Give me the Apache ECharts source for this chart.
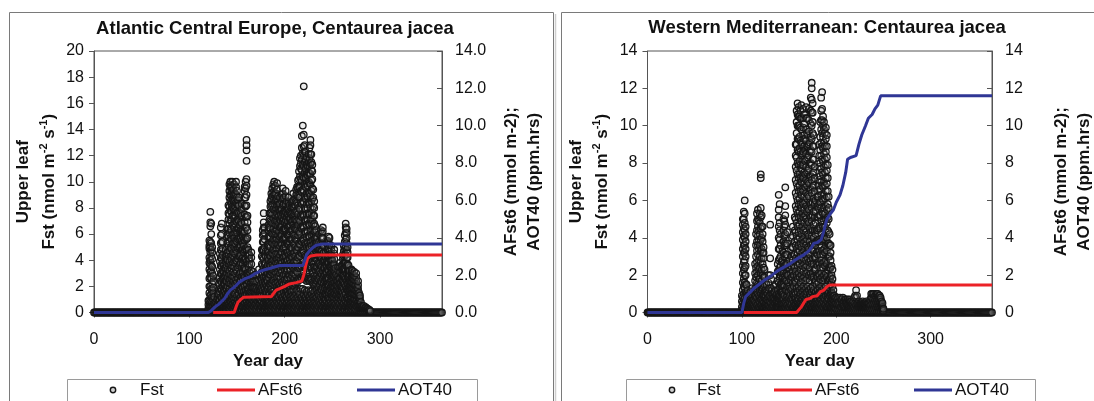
<!DOCTYPE html>
<html>
<head>
<meta charset="utf-8">
<script src="https://cdn.jsdelivr.net/npm/echarts@6/dist/echarts.min.js"></script>
<style>
  html, body { margin: 0; padding: 0; background: #fff; }
  #chart { width: 1094px; height: 401px; }
</style>
</head>
<body>
<div id="chart"></div>
<script>
// Panel titles and axis ranges
const panelTitles = ['Atlantic Central Europe, Centaurea jacea', 'Western Mediterranean: Centaurea jacea'];
const fstMax = [20, 14];
const cumMax = [14, 14];

// Hourly upper-leaf stomatal flux (Fst), grouped per year day: [day, values...]
const fstAtlantic = [
  [120,0.1,0.3,0.6,0.9],[121,0.2,0.5,0.9,1.5,2.0,2.6,3.3,3.8,4.2,4.9,5.1,5.5],
  [122,0.1,0.4,0.8,1.3,2.0,2.7,3.1,3.7,4.0,4.6,5.0,5.4,6.6,6.9,7.7],
  [123,0.2,0.5,0.9,1.4,1.8,2.6,3.2,3.6,4.3,4.8,5.3,6.0,6.8],[124,0.1,0.4,0.8,1.2,1.7,2.2,3.0,3.5,4.1,4.6,5.0],
  [125,0.2,0.5,1.0,1.5,1.9,2.4,2.8],[126,0.1,0.3,0.7,1.2],[127,0.1,0.4,0.6],[128,0.2,0.4,0.8],
  [129,0.1,0.5,1.0],[130,0.2,0.6,1.1,1.4],[131,0.1,0.4,0.9,1.4,1.8,2.6],[132,0.2,0.6,1.0,1.6,2.1,2.7,3.3,3.9,4.5],
  [133,0.3,0.7,1.2,1.8,2.4,3.0,3.6,4.2,4.8,5.3,5.9,6.5],[134,0.2,0.5,1.1,1.7,2.3,2.9,3.5,4.1,4.7,5.4,6.0,6.8],
  [135,0.3,0.6,0.9,1.5,2.0,2.6,3.2,3.8,4.4,4.9,5.4],[136,0.2,0.5,0.8,1.3,1.7,2.2,2.7,3.1,3.6],
  [137,0.3,0.7,1.0,1.6,2.2,2.8,3.4],[138,0.2,0.5,0.9,1.4,1.9,2.4,2.9,3.4,3.9,4.3,4.8],
  [139,0.3,0.6,1.2,1.8,2.4,3.0,3.6,4.1,4.5],[140,0.4,0.8,1.4,2.0,2.7,3.3,4.0,4.6,5.3,5.9,6.4],
  [141,0.2,0.6,1.1,1.6,2.3,3.0,3.7,4.4,5.1,5.8,6.4,7.1,7.6,8.2],
  [142,0.3,0.7,1.2,1.8,2.5,3.2,3.9,4.7,5.4,6.1,6.8,7.5,8.1,8.8,9.3,9.8],
  [143,0.2,0.5,0.9,1.5,2.2,2.9,3.6,4.3,5.0,5.7,6.4,7.1,7.8,8.5,9.0,9.6,10.0],
  [144,0.4,0.8,1.3,1.9,2.6,3.4,4.1,4.9,5.6,6.3,7.0,7.7,8.3,8.9,9.3,9.7],
  [145,0.2,0.6,1.0,1.6,2.1,2.8,3.6,4.4,5.2,5.9,6.7,7.4,8.1,8.7,9.2,9.6,10.0],
  [146,0.3,0.7,1.2,1.7,2.4,3.1,3.8,4.6,5.3,6.0,6.7,7.4,8.0,8.6,9.0,9.4],
  [147,0.2,0.5,1.0,1.5,2.0,2.7,3.5,4.2,5.0,5.7,6.5,7.2,7.9,8.5,9.0,9.8],
  [148,0.4,0.8,1.4,2.2,3.0,3.8,4.5,5.3,6.1,6.8,7.4,8.1,8.6,9.1],
  [149,0.2,0.6,1.1,1.8,2.5,3.3,4.0,4.8,5.5,6.3,7.0,7.8,8.4,9.0,9.6,10.0],
  [150,0.3,0.7,1.3,2.3,3.1,3.9,4.6,5.4,6.1,6.9,7.6,8.3,8.8,9.3],
  [151,0.2,0.5,1.0,1.9,2.6,3.4,4.1,4.9,5.6,6.4,7.1,7.7,8.2,8.6],
  [152,0.4,0.8,1.4,2.1,2.9,3.6,4.3,5.0,5.7,6.4,7.0,7.6,8.2,8.8],
  [153,0.2,0.6,1.1,1.7,2.4,3.0,3.7,4.3,5.0,5.6,6.2,6.7],
  [154,0.3,0.7,1.2,1.8,2.5,3.1,3.8,4.4,5.1,5.7,6.3,6.9,7.6],
  [155,0.2,0.5,1.0,1.6,2.0,2.7,3.4,4.1,4.8,5.5,6.2,6.8,7.4,7.9,8.3],
  [156,0.4,0.8,1.3,1.9,2.5,3.1,3.7,4.2,4.8,5.3,5.8,6.2],
  [157,0.2,0.6,1.1,1.6,2.2,2.8,3.4,4.0,4.6,5.1,5.6,6.1],
  [158,0.3,0.7,1.3,2.0,2.7,3.4,4.1,4.8,5.5,6.2,6.9,7.5,8.2,8.8,9.3,9.6],
  [159,0.2,0.5,1.0,1.7,2.5,3.3,4.1,4.9,5.7,6.5,7.3,8.1,8.8,9.5,10.0],
  [160,0.4,0.8,1.4,2.2,3.0,3.9,4.8,5.6,6.5,7.3,8.2,9.0,9.7,10.2,11.6,12.4,12.8,13.2],
  [161,0.2,0.6,1.1,1.7,2.4,3.0,3.7,4.4,5.0,5.7,6.3,6.9,7.4],[162,0.3,0.7,1.2,1.8,2.4,2.9,3.5,4.0,4.5,4.8],
  [163,0.2,0.5,0.9,1.5,2.0,2.6,3.1,3.7,4.1,4.4],[164,0.4,0.8,1.1,1.6,2.2,2.7,3.0],
  [165,0.2,0.6,1.0,1.5,2.0,2.6,3.2,3.7,4.2,4.6],[166,0.3,0.7,1.0,1.4,1.9,2.3,2.6],
  [167,0.2,0.5,0.9,1.3,1.9,2.4,2.8,3.1],[168,0.4,0.8,1.2,1.6,1.9],[169,0.2,0.6,1.0,1.5,1.9,2.4,2.9],
  [170,0.3,0.7,1.0,1.4,1.8],[171,0.2,0.5,0.9,1.4,1.9,2.4],[172,0.4,0.8,1.1,1.5,1.7],
  [173,0.2,0.6,1.0,1.4,1.9,2.5,2.9,3.3],[174,0.3,0.7,1.0,1.4,1.7,2.0],[175,0.2,0.5,0.9,1.3,1.8,2.2,2.6],
  [176,0.4,0.8,1.3,1.9,2.5,3.1,3.7,4.3,4.8],[177,0.2,0.6,1.1,1.7,2.3,2.9,3.6,4.2,4.8,5.4,5.9,6.3],
  [178,0.3,0.7,1.3,2.0,2.7,3.4,4.1,4.8,5.4,6.0,6.5,6.9,7.6],[179,0.2,0.5,1.0,1.8,2.4,3.1,3.7,4.4,5.0,5.6,6.1,6.5],
  [180,0.4,0.8,1.2,1.6,2.2,2.7,3.3,3.8,4.3,4.7],[181,0.2,0.6,1.0,1.5,2.0,2.5,3.0,3.4],
  [182,0.3,0.7,1.1,1.8,2.4,3.0,3.6,4.2,4.7,5.2],[183,0.2,0.5,0.9,1.5,2.0,2.7,3.3,4.0,4.6,5.2,5.8,6.3,6.7],
  [184,0.4,0.8,1.4,2.2,2.9,3.7,4.4,5.1,5.8,6.5,7.1,7.6],
  [185,0.2,0.6,1.1,1.7,2.1,2.9,3.6,4.3,5.0,5.7,6.4,7.0,7.6,8.1,8.5],
  [186,0.3,0.7,1.2,1.8,2.3,3.1,3.9,4.6,5.4,6.1,6.9,7.6,8.2,8.7,9.1],
  [187,0.2,0.5,1.0,1.6,2.2,3.0,3.7,4.5,5.3,6.0,6.8,7.5,8.3,8.9,9.5],
  [188,0.4,0.8,1.4,2.4,3.2,4.0,4.8,5.6,6.4,7.2,7.9,8.6,9.2,9.8],
  [189,0.2,0.6,1.1,1.7,2.1,2.9,3.6,4.4,5.2,6.0,6.8,7.5,8.3,9.0,9.6,10.0],
  [190,0.3,0.7,1.2,2.3,3.1,3.9,4.7,5.5,6.2,7.0,7.8,8.5,9.1,9.7],
  [191,0.2,0.5,1.0,1.6,2.2,3.0,3.8,4.5,5.3,6.0,6.7,7.4,8.0,8.6,9.1],
  [192,0.4,0.8,1.3,2.0,2.7,3.4,4.1,4.9,5.6,6.3,7.0,7.6,8.2,8.7,9.4,9.9],
  [193,0.2,0.6,1.1,1.7,2.3,3.1,3.8,4.5,5.2,5.9,6.6,7.3,7.9,8.5,8.9],
  [194,0.3,0.7,1.2,1.8,2.1,2.8,3.5,4.2,4.9,5.6,6.2,6.8,7.4,7.9,8.3],
  [195,0.2,0.5,1.0,1.6,2.2,3.0,3.7,4.4,5.1,5.8,6.5,7.1,7.8,8.3,8.8],
  [196,0.4,0.8,1.4,2.0,2.6,3.3,4.0,4.6,5.3,5.9,6.5,7.0,7.5,7.9],
  [197,0.2,0.6,1.1,1.8,2.3,3.1,3.8,4.6,5.2,5.9,6.6,7.3,7.9,8.5,9.0],
  [198,0.3,0.7,1.2,2.1,2.8,3.5,4.2,4.9,5.6,6.3,7.0,7.6,8.2,8.7,9.1,9.5],
  [199,0.2,0.5,1.0,1.6,2.2,2.9,3.6,4.3,5.0,5.7,6.4,7.1,7.7,8.3,8.8],
  [200,0.4,0.8,1.3,1.9,2.5,3.2,3.9,4.5,5.2,5.8,6.4,6.9,7.4,7.8],
  [201,0.2,0.6,1.1,1.7,2.2,2.9,3.6,4.3,5.0,5.7,6.4,7.1,7.7,8.3,8.9,9.3],
  [202,0.3,0.7,1.2,1.8,2.5,3.2,3.9,4.6,5.3,6.0,6.7,7.3,7.9,8.5],
  [203,0.2,0.5,1.0,1.6,2.0,2.7,3.3,4.0,4.6,5.3,5.9,6.5,7.0,7.5,8.0],
  [204,0.4,0.8,1.4,2.2,2.9,3.7,4.4,5.2,5.9,6.6,7.3,7.9,8.4,8.8],
  [205,0.2,0.6,1.1,1.7,2.1,2.8,3.4,4.1,4.7,5.4,6.0,6.6,7.2,7.7,8.2],
  [206,0.3,0.7,1.2,1.8,2.0,2.6,3.2,3.8,4.4,5.0,5.6,6.2,6.7,7.2,7.6],
  [207,0.2,0.5,1.0,1.6,2.2,2.9,3.6,4.3,5.0,5.6,6.3,6.9,7.5,8.0,8.4],
  [208,0.4,0.8,1.3,2.1,2.8,3.5,4.2,4.9,5.6,6.3,7.0,7.6,8.1,8.5],
  [209,0.2,0.6,1.1,1.7,2.3,3.0,3.8,4.5,5.3,6.0,6.7,7.4,8.0,8.6,9.1],
  [210,0.3,0.7,1.2,2.0,2.6,3.3,3.9,4.6,5.2,5.9,6.5,7.1,7.6,8.0],
  [211,0.2,0.5,1.0,1.6,2.2,2.9,3.6,4.3,5.0,5.7,6.4,7.1,7.7,8.2,8.7],
  [212,0.4,0.8,1.4,2.4,3.2,4.0,4.8,5.6,6.4,7.1,7.8,8.5,9.0,9.4],
  [213,0.2,0.6,1.1,1.7,2.3,3.1,3.9,4.7,5.5,6.3,7.0,7.7,8.4,9.0,9.6],
  [214,0.3,0.7,1.2,2.5,3.4,4.2,5.0,5.9,6.7,7.5,8.2,8.9,9.5,10.1],
  [215,0.2,0.5,1.0,1.6,2.6,3.5,4.4,5.3,6.2,7.1,8.0,8.8,9.6,10.2,10.8],
  [216,0.4,0.8,1.4,2.5,3.4,4.3,5.2,6.1,7.0,7.9,8.8,9.6,10.4,11.2,11.8],
  [217,0.2,0.6,1.1,1.8,2.7,3.6,4.6,5.5,6.5,7.4,8.4,9.3,10.2,11.0,11.4,12.0],
  [218,0.3,0.7,1.2,2.6,3.5,4.5,5.4,6.4,7.3,8.3,9.2,10.1,10.9,11.7,12.6,13.5],
  [219,0.2,0.5,1.0,1.8,2.8,3.7,4.7,5.6,6.6,7.5,8.5,9.4,10.4,11.3,12.2,14.3],
  [220,0.4,0.8,1.4,2.7,3.6,4.6,5.5,6.5,7.4,8.4,9.3,10.3,11.2,12.0,12.7,13.6,17.3],
  [221,0.2,0.6,1.1,1.7,2.6,3.5,4.4,5.3,6.2,7.1,8.0,8.9,9.8,10.7,11.5,12.3,12.8],
  [222,0.3,0.7,1.2,2.5,3.4,4.3,5.2,6.1,7.0,7.9,8.7,9.6,10.3,11.0,11.7,12.3],
  [223,0.2,0.5,1.0,1.6,2.4,3.2,4.1,5.0,5.8,6.7,7.5,8.3,9.1,9.9,10.6,11.3,11.9],
  [224,0.4,0.8,1.4,2.6,3.5,4.4,5.3,6.2,7.1,8.0,8.9,9.7,10.5,11.2],
  [225,0.2,0.6,1.1,1.7,2.5,3.4,4.2,5.1,5.9,6.8,7.6,8.4,9.2,10.0,10.7,11.5,12.1],
  [226,0.3,0.7,1.2,2.4,3.2,4.1,5.0,5.8,6.7,7.5,8.3,9.1,9.9,10.6,11.2,11.8,12.6],
  [227,0.2,0.5,1.0,1.6,2.6,3.5,4.4,5.3,6.2,7.1,8.0,8.9,9.8,10.6,11.4,12.1,12.8,13.2],
  [228,0.4,0.8,1.4,2.5,3.4,4.2,5.1,5.9,6.8,7.6,8.5,9.3,10.1,10.9,11.5,12.1],
  [229,0.2,0.6,1.1,1.7,2.3,3.1,3.9,4.7,5.5,6.3,7.1,7.9,8.7,9.5,10.2,10.8,11.3],
  [230,0.3,0.7,1.2,2.2,3.0,3.7,4.5,5.2,6.0,6.7,7.4,8.1,8.8,9.4],
  [231,0.2,0.5,1.0,1.6,2.1,2.8,3.5,4.2,4.9,5.6,6.2,6.8,7.4,8.0,8.5],
  [232,0.4,0.8,1.3,2.0,2.6,3.3,3.9,4.5,5.1,5.7,6.2,6.6],
  [233,0.2,0.6,1.1,1.7,2.2,2.8,3.5,4.1,4.7,5.3,5.8,6.3],
  [234,0.3,0.7,1.2,1.8,2.4,2.9,3.5,4.0,4.5,5.0,5.4,5.7],
  [235,0.2,0.5,1.0,1.5,2.0,2.6,3.2,3.8,4.4,4.9],[236,0.4,0.8,1.3,1.9,2.5,3.1,3.7,4.3,4.8,5.4,6.0],
  [237,0.2,0.6,1.0,1.6,2.1,2.7,3.2,3.8,4.3,4.8],[238,0.3,0.7,1.2,1.8,2.4,3.0,3.6,4.2,4.7,5.3,5.8,6.3],
  [239,0.2,0.5,1.0,1.7,2.3,2.9,3.5,4.1,4.7,5.2,5.7,6.1],[240,0.4,0.8,1.3,1.9,2.6,3.2,3.9,4.5,5.1,5.7,6.2,6.5],
  [241,0.2,0.6,1.1,1.6,2.2,2.8,3.4,4.0,4.6,5.1],[242,0.3,0.7,1.0,1.4,1.9,2.4,2.9,3.4,3.9,4.3],
  [243,0.2,0.5,1.0,1.5,2.1,2.6,3.1,3.7,4.2,4.6],[244,0.4,0.8,1.3,1.7,2.2,2.6,3.1,3.5,3.9],
  [245,0.2,0.6,1.1,1.6,2.2,2.7,3.3,3.8,4.3,4.8,5.2,5.5],[246,0.3,0.7,1.2,1.5,2.1,2.6,3.2,3.8,4.4,4.9,5.4,5.8],
  [247,0.2,0.5,1.0,1.7,2.3,2.9,3.5,4.1,4.7,5.2,5.7],[248,0.4,0.8,1.4,1.9,2.4,3.0,3.5,4.0,4.5],
  [249,0.2,0.6,1.1,1.5,2.0,2.5,3.0,3.5,4.0,4.4,4.8,5.1],[250,0.3,0.7,1.3,1.8,2.2,2.7,3.1,3.6,4.0],
  [251,0.2,0.5,1.0,1.2,1.6,2.0,2.5,2.9,3.3,3.7],[252,0.4,0.8,1.4,1.9,2.3,2.8,3.2,3.7,4.1,4.5,4.8],
  [253,0.2,0.6,1.1,1.5,1.9,2.3,2.7,3.1,3.4],[254,0.3,0.7,1.3,1.7,2.1,2.5,2.9],
  [255,0.2,0.5,1.0,1.4,1.7,2.1,2.4],[256,0.4,0.8,1.2,1.6,2.0,2.4,2.8,3.2,3.5],
  [257,0.2,0.6,1.1,1.4,1.8,2.2,2.6],[258,0.3,0.7,1.3,1.7,2.2,2.6,3.1,3.5,3.8],
  [259,0.2,0.5,1.0,1.3,1.6,2.0,2.3],[260,0.4,0.8,1.2,1.6,2.0,2.5,2.9,3.3,3.6],
  [261,0.2,0.6,1.1,1.5,1.9,2.4,2.8,3.3,3.7,4.1,4.4],[262,0.3,0.7,1.3,1.8,2.3,2.8,3.3,3.8,4.3,4.7,5.1],
  [263,0.2,0.5,1.0,1.6,2.2,2.7,3.3,3.8,4.4,4.9,5.4,5.9],[264,0.4,0.8,1.4,2.0,2.6,3.2,3.8,4.4,5.0,5.6,6.1,6.5,6.8],
  [265,0.2,0.6,1.1,1.8,2.4,3.0,3.6,4.2,4.8,5.3,5.7,6.1,6.4],[266,0.3,0.7,1.2,1.7,2.2,2.7,3.2,3.7,4.2,4.6,5.0],
  [267,0.2,0.5,1.0,1.5,1.9,2.4,2.8,3.2,3.6],[268,0.4,0.8,1.3,1.7,2.1,2.5,2.9,3.2],
  [269,0.2,0.6,1.0,1.3,1.7,2.1,2.4],[270,0.3,0.7,1.1,1.5,1.9,2.3,2.7,3.0,3.3],
  [271,0.2,0.5,0.9,1.4,1.8,2.3,2.7,3.0,3.2],[272,0.4,0.8,1.1,1.5,1.9,2.2,2.6,2.9],
  [273,0.2,0.6,1.0,1.4,1.8,2.2,2.5,2.8,3.1],[274,0.3,0.7,1.0,1.4,1.7,2.1],
  [275,0.2,0.5,0.9,1.3,1.7,2.1,2.4,2.7,3.0],[276,0.4,0.7,1.0,1.3,1.6,1.9],
  [277,0.2,0.5,0.8,1.2,1.5,1.8,2.1,2.4],[278,0.3,0.6,0.9,1.1,1.3,1.5],[279,0.2,0.4,0.6,0.9,1.1,1.3],
  [280,0.1,0.3,0.5,0.8],[281,0.2,0.4,0.5],[282,0.1,0.3,0.4],[283,0.2,0.3,0.5],[284,0.1,0.3],
  [285,0.2,0.4],[286,0.1,0.3],[287,0.2,0.3],[288,0.1,0.2],[289,0.1,0.2],[290,0.1]
];

const fstMediterranean = [
  [100,0.1,0.3,0.6,0.9],[101,0.2,0.5,0.8,1.2,1.6,2.1,2.5,3.0,3.4,3.9,4.3,4.7,5.0],
  [102,0.1,0.4,0.7,1.0,1.4,1.8,2.3,2.7,3.2,3.6,4.1,4.5,5.0,5.4],
  [103,0.2,0.5,0.8,1.3,1.6,2.0,2.4,2.8,3.2,3.6,4.0,4.4,4.8,5.3,6.0],
  [104,0.1,0.3,0.6,1.1,1.5,2.0,2.5,3.0,3.4,3.8,4.2,4.6],[105,0.2,0.5,0.7,1.0,1.5],
  [106,0.1,0.3,0.6,0.9,1.2],[107,0.2,0.5,0.7,0.9],[108,0.1,0.4,0.7],[109,0.2,0.4,0.6,0.9,1.1],
  [110,0.1,0.3,0.5,0.8],[111,0.2,0.4,0.6,0.9,1.3],[112,0.1,0.3,0.5,0.7],[113,0.2,0.4,0.7,1.0],
  [114,0.1,0.3,0.6,0.9,1.3,1.7,2.1,2.6],[115,0.2,0.5,0.9,1.3,1.9,2.4,3.0,3.6,4.2],
  [116,0.1,0.4,0.8,1.1,1.6,2.2,2.7,3.3,3.8,4.4,4.9,5.3],[117,0.2,0.5,1.0,1.5,2.0,2.5,3.1,3.6,4.1,4.6,5.0,5.5],
  [118,0.1,0.3,0.6,0.9,1.4,1.8,2.3,2.8,3.4,3.9,4.4,4.9],[119,0.2,0.5,0.8,1.2,1.8,2.4,3.0,3.6,4.2,4.8,5.3],
  [120,0.1,0.4,0.7,1.0,1.5,2.1,2.7,3.3,3.9,4.5,5.1,5.6,7.2,7.4],[121,0.2,0.5,0.8,1.2,1.7,2.3,2.9,3.4,4.0,4.6,5.2],
  [122,0.1,0.3,0.6,0.9,1.3,2.0,2.6,3.2,3.8,4.2,4.6],[123,0.2,0.5,0.9,1.4,1.9,2.4,2.9,3.2,3.5],
  [124,0.1,0.4,0.8,1.1,1.5,1.9,2.3],[125,0.2,0.4,0.6,0.9,1.2],[126,0.1,0.3,0.7,1.1,1.5],
  [127,0.2,0.5,0.7,1.0],[128,0.1,0.4,0.8,1.2,1.6,2.0],[129,0.2,0.4,0.6,0.9,1.3],
  [130,0.1,0.3,0.6,0.9,2.0,2.9,4.7],[131,0.2,0.5,0.8,1.3,1.8],[132,0.1,0.3,0.7,1.0,1.2],
  [133,0.2,0.4,0.6,0.8,1.0],[134,0.1,0.3,0.6,0.8,1.1,1.4],[135,0.2,0.5,0.7,1.1],
  [136,0.1,0.3,0.6,0.9,1.2,1.5],[137,0.2,0.4,0.6,0.8,1.0],[138,0.1,0.3,0.5,0.8,1.2,1.7,2.2,2.6],
  [139,0.2,0.5,0.8,1.0,1.6,2.2,2.8,3.4,4.0,4.6,5.1,5.5,6.3],[140,0.1,0.4,0.7,0.9,1.4,1.9,2.4,2.9,3.4,3.9,4.4,4.8,5.8],
  [141,0.2,0.5,0.8,1.1,1.5,2.0,2.5,3.0,3.6,4.2],[142,0.1,0.3,0.5,0.7,1.1,1.5,2.1,2.7],
  [143,0.2,0.5,0.8,1.1,1.4,1.9,2.3,2.8,3.3],[144,0.1,0.4,0.7,1.0,1.5,2.1,2.6,3.2,3.8,4.4,5.0],
  [145,0.2,0.5,0.9,1.4,1.9,2.5,3.0,3.6,4.1,4.6,4.9],[146,0.1,0.3,0.6,1.2,1.8,2.5,3.1,3.7,4.2,4.7,5.2,5.7,6.7],
  [147,0.2,0.5,0.8,1.2,1.7,2.1,2.6,3.1,3.6],[148,0.1,0.4,0.9,1.4,2.0,2.6,3.1,3.7,4.3],
  [149,0.2,0.5,0.7,1.1,1.6,2.0,2.4],[150,0.1,0.3,0.6,0.8,1.1,1.4],[151,0.2,0.5,0.9,1.3,1.8,2.3,2.8],
  [152,0.1,0.4,0.7,1.2,1.7,2.1,2.5,3.0,3.4],[153,0.2,0.5,0.8,1.3,1.9,2.4,3.0,3.5,4.0],
  [154,0.1,0.3,0.7,1.0,1.6,2.2,2.8,3.5,4.1,4.6],[155,0.2,0.5,0.9,1.4,2.0,2.5,3.1],
  [156,0.1,0.4,0.8,1.1,1.7,2.4,3.1,3.8,4.4,5.1],
  [157,0.2,0.5,0.8,1.0,1.6,2.2,2.9,3.6,4.3,5.0,5.7,6.4,7.1,7.8,8.4,9.0],
  [158,0.1,0.3,0.6,1.3,2.0,2.7,3.4,4.1,4.8,5.5,6.2,6.9,7.6,8.3,9.0,9.6,10.2,10.8],
  [159,0.2,0.5,0.8,1.1,1.8,2.5,3.2,3.9,4.6,5.3,6.0,6.7,7.4,8.0,8.7,9.3,10.0,10.6,11.2],
  [160,0.1,0.4,0.7,1.4,2.1,2.9,3.6,4.3,5.1,5.8,6.5,7.2,7.9,8.6,9.3,10.0,10.5,11.0],
  [161,0.2,0.5,0.9,1.2,1.9,2.6,3.3,4.0,4.7,5.4,6.1,6.8,7.4,8.1,8.8,9.4,10.0,10.5],
  [162,0.1,0.3,0.6,1.0,1.6,2.3,3.0,3.7,4.4,5.1,5.8,6.5,7.2,7.9,8.6,9.2,9.9,10.4,10.8],
  [163,0.2,0.5,0.8,1.3,2.0,2.8,3.5,4.2,4.9,5.6,6.3,7.0,7.7,8.4,9.1,9.8,10.4,11.1],
  [164,0.1,0.4,0.7,1.1,1.8,2.5,3.2,3.9,4.6,5.3,5.9,6.6,7.3,7.9,8.5,9.0],
  [165,0.2,0.5,0.9,1.4,2.2,2.9,3.7,4.4,5.1,5.8,6.5,7.2,7.9,8.6,9.3,9.9,10.4,10.9],
  [166,0.1,0.3,0.6,1.2,1.9,2.6,3.3,4.0,4.8,5.5,6.2,6.9,7.5,8.2,8.9,9.5,10.1,10.6],
  [167,0.2,0.5,0.8,1.0,1.7,2.4,3.1,3.8,4.5,5.2,5.9,6.7,7.4,8.1,8.7,9.3],
  [168,0.1,0.4,0.7,1.3,2.1,2.8,3.6,4.3,5.0,5.7,6.4,7.1,7.8,8.5,9.2,9.8,10.4,11.0],
  [169,0.2,0.5,0.9,1.1,1.8,2.5,3.2,3.9,4.7,5.4,6.1,6.8,7.5,8.2,8.9,9.6,10.4],
  [170,0.1,0.3,0.6,1.4,2.2,2.9,3.5,4.2,4.9,5.6,6.3,7.0,7.6,8.3,8.9,9.5],
  [171,0.2,0.5,0.8,1.2,2.0,2.7,3.4,4.1,4.8,5.5,6.2,6.9,7.7,8.4,9.0,9.7,10.3,10.9],
  [172,0.1,0.4,0.7,1.0,1.7,2.4,3.1,3.8,4.5,5.2,5.9,6.6,7.3,8.0,8.6,9.1],
  [173,0.2,0.5,0.9,1.3,2.1,2.8,3.6,4.3,5.1,5.8,6.6,7.3,8.0,8.7,9.4,10.1,10.8,11.5],
  [174,0.1,0.3,0.6,1.1,1.9,2.6,3.4,4.1,4.9,5.6,6.4,7.1,7.9,8.6,9.3,10.0,10.7,11.4,12.0,12.3],
  [175,0.2,0.5,0.8,1.4,2.1,2.9,3.7,4.4,5.2,5.9,6.7,7.4,8.2,8.9,9.6,10.2,10.7,11.2],
  [176,0.1,0.4,0.7,1.2,1.9,2.6,3.3,4.0,4.7,5.4,6.1,6.8,7.5,8.2,8.9,9.5],
  [177,0.2,0.5,0.9,1.0,1.6,2.3,3.0,3.7,4.4,5.1,5.8,6.5,7.2,7.8],
  [178,0.1,0.3,0.6,1.1,1.7,2.3,2.9,3.6,4.2,4.8,5.4,6.0],[179,0.2,0.5,0.8,0.9,1.5,2.0,2.6,3.2,3.8,4.4],
  [180,0.1,0.4,0.7,1.2,1.9,2.5,3.1,3.8,4.4,5.1,5.7,6.2],[181,0.2,0.5,0.9,1.0,1.6,2.1,2.7,3.3,3.9,4.5,5.1,5.6,6.2,6.8],
  [182,0.1,0.3,0.6,1.3,2.0,2.6,3.3,3.9,4.6,5.2,5.8,6.5,7.1,7.8,8.4,9.0],
  [183,0.2,0.5,0.8,1.1,1.8,2.4,3.1,3.8,4.5,5.2,5.9,6.6,7.3,8.0,8.7,9.4,10.2],
  [184,0.1,0.4,0.7,1.4,2.1,2.8,3.5,4.2,4.9,5.6,6.3,7.0,7.7,8.4,9.1,9.8,10.3,10.8,11.5],
  [185,0.2,0.5,0.9,1.2,1.9,2.6,3.3,4.0,4.7,5.4,6.1,6.8,7.5,8.2,8.9,9.6,10.3,10.9,11.8],
  [186,0.1,0.3,0.6,1.0,1.7,2.4,3.1,3.9,4.6,5.3,6.0,6.7,7.4,8.1,8.8,9.4,10.0,10.5],
  [187,0.2,0.5,0.8,1.3,2.0,2.7,3.4,4.1,4.9,5.6,6.3,7.0,7.8,8.5,9.1,9.8,10.2],
  [188,0.1,0.4,0.7,1.1,1.8,2.5,3.2,3.9,4.6,5.3,6.1,6.8,7.5,8.2,8.9,9.6],
  [189,0.2,0.5,0.9,1.4,2.1,2.8,3.6,4.3,5.0,5.7,6.5,7.2,7.9,8.6,9.3,9.9],
  [190,0.1,0.3,0.6,1.2,1.9,2.6,3.3,4.0,4.8,5.5,6.2,6.9,7.6,8.3,8.9,9.5],
  [191,0.2,0.5,0.8,1.0,1.7,2.3,3.0,3.7,4.4,5.1,5.8,6.5,7.2,7.9],
  [192,0.1,0.4,0.7,1.1,1.7,2.4,3.0,3.7,4.3,5.0,5.6,6.2],[193,0.2,0.5,0.9,1.3,1.8,2.4,3.0,3.6,4.2],
  [194,0.1,0.3,0.6,1.0,1.5,1.9,2.4,2.8,3.2,3.6],[195,0.2,0.5,0.8,1.1,1.6,2.0,2.5],
  [196,0.1,0.4,0.7,1.0,1.4,1.8,2.3],[197,0.2,0.5,0.7,0.9,1.2],[198,0.1,0.3,0.6,0.9],[199,0.2,0.5,0.8],
  [200,0.2,0.5,0.8],[201,0.1,0.4,0.7],[202,0.2,0.5,0.8],[203,0.1,0.4,0.6],[204,0.2,0.5,0.8],
  [205,0.1,0.3,0.7],[206,0.2,0.5,0.7],[207,0.1,0.4,0.8],[208,0.2,0.4,0.6],[209,0.1,0.3,0.7],
  [210,0.2,0.5,0.7],[211,0.1,0.4,0.6],[212,0.2,0.4,0.7],[213,0.1,0.3,0.6],[214,0.2,0.5,0.7],
  [215,0.1,0.4,0.6],[216,0.2,0.3,0.6],[217,0.1,0.4,0.5],[218,0.2,0.4,0.6],[219,0.1,0.3,0.8],
  [220,0.2,0.5,0.9],[221,0.1,0.4,0.8,1.2],[222,0.2,0.5,0.9],[223,0.1,0.3,0.5],[224,0.2,0.4,0.6],
  [225,0.1,0.3,0.5],[226,0.2,0.4,0.5],[227,0.1,0.3,0.5],[228,0.2,0.4,0.6],[229,0.1,0.3,0.5],
  [230,0.2,0.4,0.5],[231,0.1,0.3,0.5],[232,0.2,0.4,0.6],[233,0.1,0.3,0.5],[234,0.2,0.4,0.5],
  [235,0.1,0.3,0.5],[236,0.2,0.4,0.7],[237,0.1,0.4,0.8,1.0],[238,0.2,0.5,0.8,1.0],[239,0.1,0.4,0.7,1.0],
  [240,0.2,0.5,0.8,1.0],[241,0.1,0.4,0.7,0.9],[242,0.2,0.5,0.8,1.0],[243,0.1,0.4,0.7,1.0],
  [244,0.2,0.5,0.8,1.0],[245,0.1,0.4,0.7,0.9],[246,0.2,0.5,0.8,0.9],[247,0.1,0.4,0.7,0.8],
  [248,0.2,0.4,0.6],[249,0.1,0.3,0.5],[250,0.1,0.2]
];

// Fst is zero on every remaining hour of the year
const fstZeroSpan = [0, 365];

// Accumulated flux above 6 nmol (AFst6) and AOT40: [day, value]
const afst6Atlantic = [
  [125,0],[147,0],[149,0.3],[151,0.55],[154,0.7],[157,0.82],[186,0.85],[188,1.0],[191,1.2],
  [196,1.3],[200,1.4],[205,1.53],[212,1.6],[218,1.68],[220,2.0],[222,2.5],[224,2.9],[227,3.02],
  [234,3.08],[365,3.08]
];
const aot40Atlantic = [
  [0,0],[120,0],[123,0.1],[127,0.3],[131,0.45],[134,0.6],[137,0.75],[140,1.0],[143,1.2],
  [147,1.35],[150,1.5],[153,1.65],[158,1.8],[164,1.92],[168,2.05],[174,2.2],[180,2.3],[185,2.37],
  [190,2.45],[195,2.52],[219,2.52],[221,2.8],[223,3.1],[226,3.3],[229,3.45],[233,3.6],[240,3.67],
  [365,3.67]
];
const afst6Mediterranean = [
  [102,0],[158,0],[160,0.1],[163,0.3],[166,0.55],[168,0.7],[172,0.75],[175,0.85],[180,0.9],
  [183,1.1],[187,1.2],[190,1.38],[193,1.47],[365,1.47]
];
const aot40Mediterranean = [
  [0,0],[100,0],[102,0.5],[104,0.85],[108,1.05],[113,1.3],[118,1.5],[123,1.7],[127,1.83],
  [132,2.0],[137,2.2],[142,2.35],[147,2.5],[151,2.6],[156,2.8],[161,2.95],[166,3.1],[171,3.3],
  [174,3.5],[176,3.7],[180,3.75],[184,3.9],[187,4.4],[190,5.0],[194,5.3],[197,5.5],[200,5.9],
  [204,6.3],[207,6.8],[210,7.5],[212,8.2],[215,8.3],[221,8.4],[224,9.0],[227,9.5],[231,10.0],
  [234,10.4],[238,10.6],[241,10.9],[244,11.1],[247,11.6],[365,11.6]
];

const FONT = '"Liberation Sans", Arial, sans-serif';
const INK = '#111';
const FRAME = '#555';
const RED = '#ec2227';
const BLUE = '#2f3695';
const RING_FILL = 'rgba(150,150,150,0.18)';
const RING_EDGE = '#161616';

function flattenColumns(columns) {
  const pts = [];
  for (let d = fstZeroSpan[0]; d <= fstZeroSpan[1]; d++) pts.push([d, 0]);
  columns.forEach(col => {
    for (let i = 1; i < col.length; i++) pts.push([col[0], col[i]]);
  });
  return pts;
}

const grids = [
  { left: 94, top: 51, width: 348, height: 261.5 },
  { left: 647.5, top: 51, width: 361.5, height: 261.5 }
];

function xAxisFor(i) {
  return {
    gridIndex: i, type: 'value', min: 0, max: 365, interval: 100,
    name: 'Year day', nameLocation: 'middle', nameGap: 36,
    nameTextStyle: { fontFamily: FONT, fontSize: 17, fontWeight: 'bold', color: INK },
    axisLine: { show: true, lineStyle: { color: FRAME, width: 1 } },
    axisTick: { show: true, length: 5, lineStyle: { color: FRAME } },
    axisLabel: { showMaxLabel: false, margin: 19, fontFamily: FONT, fontSize: 16, color: INK },
    splitLine: { show: false }
  };
}

function leftAxisFor(i) {
  return {
    gridIndex: i, type: 'value', position: 'left', min: 0, max: fstMax[i], interval: 2,
    name: '{b|Upper leaf}\n{b|Fst (nmol m}{s|-2}{b| s}{s|-1}{b|)}',
    nameLocation: 'middle', nameRotate: 90, nameGap: 32,
    nameTextStyle: {
      rich: {
        b: { fontFamily: FONT, fontSize: 17, fontWeight: 'bold', color: INK, lineHeight: 26 },
        s: { fontFamily: FONT, fontSize: 11, fontWeight: 'bold', color: INK, lineHeight: 26, verticalAlign: 'top', padding: [2, 0, 0, 0] }
      }
    },
    axisLine: { show: true, lineStyle: { color: FRAME, width: 1 } },
    axisTick: { show: true, length: 5, lineStyle: { color: FRAME } },
    axisLabel: { margin: 10, fontFamily: FONT, fontSize: 16, color: INK },
    splitLine: { show: false }
  };
}

function rightAxisFor(i) {
  return {
    gridIndex: i, type: 'value', position: 'right', min: 0, max: cumMax[i], interval: 2,
    name: '{b|AFst6 (mmol m-2);}\n{b|AOT40 (ppm.hrs)}',
    nameLocation: 'middle', nameRotate: 90, nameGap: 58,
    nameTextStyle: {
      rich: { b: { fontFamily: FONT, fontSize: 17, fontWeight: 'bold', color: INK, lineHeight: 23 } }
    },
    axisLine: { show: true, lineStyle: { color: FRAME, width: 1 } },
    axisTick: { show: true, inside: true, length: 5, lineStyle: { color: FRAME } },
    axisLabel: {
      margin: 13, fontFamily: FONT, fontSize: 16, color: INK,
      formatter: v => (i === 0 ? v.toFixed(1) : String(v))
    },
    splitLine: { show: false }
  };
}

function scatterFor(i, columns) {
  return {
    name: 'Fst', type: 'scatter', xAxisIndex: i, yAxisIndex: 2 * i,
    data: flattenColumns(columns), symbol: 'circle', symbolSize: 6.5,
    itemStyle: { color: RING_FILL, borderColor: RING_EDGE, borderWidth: 1.3, opacity: 1 },
    emphasis: { disabled: true }, z: 2
  };
}

function lineFor(i, name, data, color) {
  return {
    name, type: 'line', xAxisIndex: i, yAxisIndex: 2 * i + 1, data,
    showSymbol: false, symbol: 'none', lineStyle: { color, width: 3 },
    emphasis: { disabled: true }, z: 3
  };
}

function legendGraphics(box, marks) {
  const cy = 390;
  return [
    { type: 'rect', shape: { x: box[0] + 0.5, y: 379.5, width: box[1] - box[0], height: 40 },
      style: { fill: '#fff', stroke: '#9a9a9a', lineWidth: 1 }, z: 10 },
    { type: 'circle', shape: { cx: marks[0], cy: cy, r: 2.7 },
      style: { fill: '#d0d0d0', stroke: RING_EDGE, lineWidth: 1.4 }, z: 11 },
    { type: 'text', x: marks[1], y: cy, style: { text: 'Fst', font: '17px ' + FONT, fill: INK, textVerticalAlign: 'middle' }, z: 11 },
    { type: 'line', shape: { x1: marks[2], y1: cy, x2: marks[2] + 38, y2: cy }, style: { stroke: RED, lineWidth: 3 }, z: 11 },
    { type: 'text', x: marks[2] + 41, y: cy, style: { text: 'AFst6', font: '17px ' + FONT, fill: INK, textVerticalAlign: 'middle' }, z: 11 },
    { type: 'line', shape: { x1: marks[3], y1: cy, x2: marks[3] + 38, y2: cy }, style: { stroke: BLUE, lineWidth: 3 }, z: 11 },
    { type: 'text', x: marks[3] + 41, y: cy, style: { text: 'AOT40', font: '17px ' + FONT, fill: INK, textVerticalAlign: 'middle' }, z: 11 }
  ];
}

const chart = echarts.init(document.getElementById('chart'), null, { renderer: 'canvas' });

chart.setOption({
  animation: false,
  backgroundColor: '#fff',
  grid: grids.map(g => Object.assign({ show: true, borderColor: FRAME, borderWidth: 1, backgroundColor: 'transparent' }, g)),
  xAxis: [xAxisFor(0), xAxisFor(1)],
  yAxis: [leftAxisFor(0), rightAxisFor(0), leftAxisFor(1), rightAxisFor(1)],
  series: [
    scatterFor(0, fstAtlantic),
    lineFor(0, 'AFst6', afst6Atlantic, RED),
    lineFor(0, 'AOT40', aot40Atlantic, BLUE),
    scatterFor(1, fstMediterranean),
    lineFor(1, 'AFst6', afst6Mediterranean, RED),
    lineFor(1, 'AOT40', aot40Mediterranean, BLUE)
  ],
  graphic: [
    // panel frames with a soft drop shadow on the right edge
    { type: 'rect', shape: { x: 9.5, y: 12.5, width: 544, height: 420 }, style: { fill: 'none', stroke: '#7a7a7a', lineWidth: 1 }, z: 0 },
    { type: 'line', shape: { x1: 555.5, y1: 14, x2: 555.5, y2: 401 }, style: { stroke: '#cfcfcf', lineWidth: 1.5 }, z: 0 },
    { type: 'rect', shape: { x: 561.5, y: 12.5, width: 560, height: 420 }, style: { fill: 'none', stroke: '#7a7a7a', lineWidth: 1 }, z: 0 },
    { type: 'text', x: 275, y: 29, style: { text: panelTitles[0], font: 'bold 18.5px ' + FONT, fill: INK, textAlign: 'center', textVerticalAlign: 'middle' } },
    { type: 'text', x: 827, y: 28, style: { text: panelTitles[1], font: 'bold 18.5px ' + FONT, fill: INK, textAlign: 'center', textVerticalAlign: 'middle' } }
  ].concat(legendGraphics([67, 477], [113, 140, 217, 357]))
   .concat(legendGraphics([626, 1035], [672, 697, 774, 914]))
});
</script>
</body>
</html>
